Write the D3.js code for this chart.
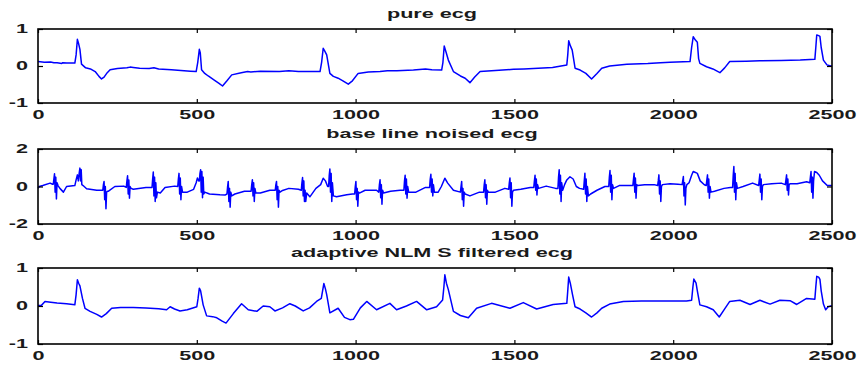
<!DOCTYPE html>
<html>
<head>
<meta charset="utf-8">
<script src="https://cdn.jsdelivr.net/npm/d3@7"></script>
<style>
  body { margin: 0; background: #fff; }
  svg text { font-family: "Liberation Sans", Arial, sans-serif; fill: #1a1a1a; }
</style>
</head>
<body>
<svg id="chart" width="857" height="365"></svg>
<script>
// sample index, amplitude
const pureEcg = [[0,0.12],[20,0.1],[40,0.11],[50,0.09],[60,0.09],[75,0.07],[78,0.09],[90,0.08],[116,0.08],[120,0.3],[124,0.72],[128,0.6],[132,0.45],[137,0.05],[150,-0.05],[165,-0.08],[180,-0.15],[192,-0.28],[200,-0.35],[208,-0.3],[218,-0.18],[227,-0.1],[250,-0.07],[280,-0.05],[290,-0.03],[300,-0.04],[320,-0.06],[350,-0.07],[365,-0.05],[380,-0.08],[420,-0.1],[450,-0.12],[480,-0.14],[498,-0.15],[503,0.1],[508,0.45],[511,0.35],[515,-0.1],[525,-0.2],[536,-0.27],[555,-0.38],[570,-0.47],[581,-0.54],[595,-0.4],[610,-0.24],[640,-0.18],[660,-0.15],[670,-0.16],[700,-0.14],[760,-0.15],[790,-0.13],[820,-0.15],[888,-0.15],[893,0.1],[898,0.48],[903,0.4],[909,0.3],[919,-0.2],[930,-0.28],[945,-0.33],[960,-0.4],[977,-0.49],[990,-0.4],[1008,-0.2],[1040,-0.16],[1077,-0.15],[1100,-0.13],[1130,-0.13],[1182,-0.11],[1220,-0.08],[1240,-0.1],[1271,-0.11],[1275,0.1],[1279,0.54],[1284,0.4],[1292,0.16],[1308,-0.15],[1330,-0.27],[1345,-0.33],[1360,-0.45],[1375,-0.3],[1392,-0.15],[1440,-0.12],[1497,-0.09],[1530,-0.08],[1560,-0.07],[1620,-0.04],[1665,0.03],[1668,0.3],[1671,0.68],[1676,0.55],[1682,0.43],[1691,-0.06],[1707,-0.11],[1725,-0.2],[1743,-0.35],[1760,-0.2],[1775,-0.06],[1800,0.0],[1854,0.05],[1920,0.07],[1960,0.09],[1990,0.1],[2053,0.12],[2058,0.5],[2063,0.79],[2070,0.7],[2076,0.64],[2080,0.2],[2084,0.07],[2105,-0.02],[2125,-0.08],[2147,-0.18],[2162,-0.05],[2178,0.12],[2230,0.13],[2273,0.14],[2340,0.15],[2400,0.16],[2446,0.18],[2449,0.5],[2452,0.84],[2458,0.82],[2462,0.8],[2466,0.5],[2473,0.16],[2484,0.03],[2496,0.0],[2500,0.0]];

const noisedEcg = [[0,-0.09],[4,0.0],[15,0.05],[38,0.18],[46,0.12],
  [48,0.12],[50,0.4],[52,0.68],[54,-0.3],[56,0.5],[58,-0.66],[60,0.2],[63,0.05],
  [69,-0.1],[80,-0.3],[90,0.0],[116,0.05],
  [120,0.35],[124,0.62],[127,0.3],[130,0.75],[132,0.98],[134,0.3],[136,0.9],[138,0.1],[142,0.05],
  [153,-0.12],[185,-0.2],
  [204,-0.2],[206,0.1],[208,0.27],[210,-0.7],[212,0.0],[214,-1.19],[216,-0.3],[219,-0.25],
  [222,-0.25],[242,0.0],[270,0.02],
  [278,-0.05],[280,0.3],[282,0.57],[284,-0.4],[286,0.35],[288,-0.62],[290,0.0],[293,-0.1],
  [300,-0.15],[340,-0.05],
  [359,-0.05],[361,0.4],[363,0.77],[365,-0.5],[367,0.5],[369,-0.8],[371,0.2],[373,-0.6],[376,-0.3],
  [385,-0.35],[400,-0.05],[430,0.02],
  [440,0.0],[442,0.4],[444,0.7],[446,-0.4],[448,0.45],[450,-0.71],[452,0.0],[455,-0.3],
  [470,-0.3],[490,-0.15],[498,0.2],[502,0.45],[506,0.3],
  [508,0.3],[510,0.7],[512,0.89],[514,-0.3],[516,0.8],[518,-0.6],[520,0.5],[522,-0.4],[525,-0.3],
  [540,-0.4],[573,-0.44],[590,-0.45],
  [595,-0.4],[597,0.0],[599,0.27],[601,-0.8],[603,-0.1],[605,-1.1],[607,-0.3],[610,-0.5],
  [620,-0.4],[650,-0.25],
  [671,-0.25],[673,0.1],[675,0.36],[677,-0.5],[679,0.2],[681,-0.8],[683,-0.1],[686,-0.35],
  [700,-0.35],[730,-0.2],
  [747,-0.2],[749,0.1],[751,0.27],[753,-0.7],[755,0.0],[757,-1.1],[759,-0.2],[762,-0.3],
  [770,-0.21],[790,-0.1],[820,-0.15],
  [829,-0.2],[831,0.2],[833,0.48],[835,-0.5],[837,0.3],[839,-0.8],[841,-0.2],[843,-0.8],[846,-0.35],
  [856,-0.55],[875,-0.1],[890,0.1],[898,0.44],[905,0.3],[912,0.0],
  [915,0.0],[917,0.6],[919,0.93],[921,-0.3],[923,0.7],[925,-0.8],[927,0.2],[930,-0.5],
  [940,-0.55],[972,-0.44],[990,-0.4],
  [997,-0.4],[999,0.0],[1001,0.27],[1003,-0.7],[1005,-0.1],[1007,-1.05],[1009,-0.3],[1012,-0.35],
  [1030,-0.2],[1066,-0.2],
  [1073,-0.3],[1075,0.1],[1077,0.36],[1079,-0.6],[1081,0.1],[1083,-0.95],[1085,-0.2],[1088,-0.35],
  [1110,-0.25],[1140,-0.2],
  [1152,-0.2],[1154,0.3],[1156,0.6],[1158,-0.4],[1160,0.4],[1162,-0.62],[1164,0.0],[1167,-0.3],
  [1190,-0.3],[1220,-0.05],
  [1233,-0.05],[1235,0.4],[1237,0.65],[1239,-0.3],[1241,0.4],[1243,-0.5],[1245,0.1],[1248,-0.3],
  [1260,-0.3],[1270,0.0],[1281,0.44],[1290,0.18],[1308,-0.2],
  [1330,-0.3],[1332,0.0],[1334,0.27],[1336,-0.7],[1338,-0.1],[1340,-1.05],[1342,-0.3],[1345,-0.4],
  [1360,-0.5],[1390,-0.3],
  [1403,-0.3],[1405,0.1],[1407,0.36],[1409,-0.6],[1411,0.1],[1413,-0.95],[1415,-0.2],[1418,-0.3],
  [1440,-0.3],[1470,-0.1],
  [1482,-0.15],[1484,0.2],[1486,0.45],[1488,-0.6],[1490,0.2],[1492,-1.05],[1494,-0.3],[1497,-0.2],
  [1520,-0.15],[1550,-0.05],
  [1561,-0.05],[1563,0.3],[1565,0.6],[1567,-0.2],[1569,0.4],[1571,-0.45],[1573,0.1],[1576,-0.1],
  [1600,0.02],[1630,-0.1],
  [1637,-0.1],[1639,0.5],[1641,0.89],[1643,-0.4],[1645,0.6],[1647,-0.8],[1649,0.2],[1652,-0.2],
  [1658,0.1],[1665,0.35],[1675,0.52],[1685,0.4],[1695,0.0],[1705,-0.1],
  [1718,-0.15],[1720,0.3],[1722,0.71],[1724,-0.4],[1726,0.4],[1728,-0.8],[1730,0.0],[1733,-0.5],
  [1740,-0.4],[1760,-0.2],[1785,0.0],
  [1797,0.0],[1799,0.5],[1801,0.85],[1803,-0.3],[1805,0.6],[1807,-0.71],[1809,0.1],[1812,-0.1],
  [1830,0.05],[1860,0.05],
  [1873,0.05],[1875,0.4],[1877,0.71],[1879,-0.3],[1881,0.45],[1883,-0.62],[1885,0.1],[1888,0.05],
  [1910,0.09],[1940,0.1],
  [1951,0.05],[1953,0.3],[1955,0.62],[1957,-0.4],[1959,0.3],[1961,-0.8],[1963,0.0],[1966,0.1],
  [1990,0.15],[2015,0.12],
  [2028,0.1],[2030,0.3],[2032,0.53],[2034,-0.5],[2036,0.2],[2038,-0.98],[2040,-0.1],[2043,0.1],
  [2050,0.2],[2058,0.6],[2063,0.8],[2070,0.75],[2076,0.7],[2085,0.3],[2098,0.09],
  [2104,0.05],[2106,0.35],[2108,0.62],[2110,-0.3],[2112,0.4],[2114,-0.62],[2116,0.0],[2119,-0.3],
  [2130,-0.25],[2160,-0.1],[2180,-0.05],
  [2187,-0.05],[2189,0.6],[2191,1.07],[2193,-0.3],[2195,0.7],[2197,-0.71],[2199,0.2],[2202,-0.1],
  [2220,0.0],[2250,0.18],
  [2269,0.05],[2271,0.35],[2273,0.66],[2275,-0.3],[2277,0.4],[2279,-0.71],[2281,0.0],[2284,0.1],
  [2310,0.15],[2340,0.18],
  [2353,0.1],[2355,0.35],[2357,0.62],[2359,-0.2],[2361,0.4],[2363,-0.45],[2365,0.1],[2368,0.15],
  [2390,0.15],[2420,0.25],
  [2430,0.2],[2432,0.5],[2434,0.8],[2436,-0.3],[2438,0.5],[2440,-0.62],[2442,0.3],[2445,0.8],
  [2452,0.75],[2460,0.6],[2470,0.3],[2485,0.05],[2500,0.05]];

const filteredEcg = [[0,0.01],[10,0.01],[22,0.12],[40,0.1],[60,0.08],[90,0.06],[116,0.03],[120,0.3],[124,0.69],[128,0.6],[132,0.53],[140,0.2],[148,-0.06],[164,-0.14],[185,-0.22],[200,-0.29],[215,-0.2],[232,-0.06],[260,-0.04],[300,-0.04],[340,-0.05],[380,-0.07],[405,-0.1],[416,-0.02],[430,-0.08],[447,-0.13],[470,-0.1],[500,-0.02],[504,0.2],[508,0.47],[512,0.4],[520,0.03],[531,-0.26],[550,-0.28],[563,-0.31],[580,-0.4],[592,-0.45],[615,-0.2],[641,0.06],[662,-0.1],[689,-0.14],[709,0.0],[730,-0.02],[746,-0.13],[770,-0.05],[793,0.06],[810,0.0],[835,-0.13],[855,-0.05],[877,0.12],[892,0.2],[900,0.59],[905,0.45],[909,0.3],[919,-0.18],[945,-0.06],[965,-0.3],[982,-0.36],[993,-0.35],[1015,-0.05],[1035,0.12],[1066,-0.1],[1108,0.07],[1129,-0.1],[1160,0.0],[1192,0.12],[1224,-0.1],[1255,-0.02],[1274,0.16],[1278,0.5],[1281,0.82],[1286,0.6],[1292,0.43],[1308,-0.14],[1330,-0.25],[1355,-0.31],[1381,-0.06],[1428,0.07],[1486,-0.06],[1528,0.09],[1570,-0.08],[1622,0.04],[1665,0.07],[1668,0.4],[1671,0.76],[1676,0.6],[1683,0.3],[1691,-0.02],[1707,-0.08],[1725,-0.18],[1743,-0.29],[1760,-0.18],[1775,-0.06],[1800,0.05],[1843,0.12],[1900,0.13],[1960,0.13],[2042,0.13],[2058,0.15],[2062,0.5],[2065,0.71],[2072,0.6],[2076,0.4],[2084,0.03],[2105,-0.02],[2126,-0.1],[2145,-0.29],[2160,-0.1],[2178,0.12],[2210,0.15],[2242,0.04],[2273,0.15],[2305,0.05],[2336,0.15],[2368,0.14],[2389,0.04],[2420,0.2],[2446,0.18],[2449,0.5],[2452,0.78],[2458,0.76],[2462,0.7],[2466,0.4],[2473,0.05],[2480,-0.1],[2488,-0.02],[2496,0.0],[2500,0.0]];

const titles = ['pure ecg', 'base line noised ecg', 'adaptive NLM S filtered ecg'];
const yDomains = [[-1, 1], [-2, 2], [-1, 1]];
const yTicks = [[-1, 0, 1], [-2, 0, 2], [-1, 0, 1]];
const xTicks = [0, 500, 1000, 1500, 2000, 2500];
const series = [pureEcg, noisedEcg, filteredEcg];

const svg = d3.select('#chart');
const left = 38, right = 832;
const panels = [
  { top: 29, bottom: 103, titleY: 18 },
  { top: 149, bottom: 224, titleY: 138 },
  { top: 268, bottom: 344, titleY: 257 },
];
const stretch = 1.8;

const x = d3.scaleLinear().domain([0, 2500]).range([left, right]);

panels.forEach((p, i) => {
  const y = d3.scaleLinear().domain(yDomains[i]).range([p.bottom, p.top]);
  const g = svg.append('g');

  const line = d3.line().x(d => x(d[0])).y(d => y(d[1]));
  g.append('path')
    .datum(series[i])
    .attr('d', line)
    .attr('fill', 'none')
    .attr('stroke', '#0000ff')
    .attr('stroke-width', 1.5)
    .attr('stroke-linejoin', 'round');

  const fmt = d => String(d);

  g.append('g')
    .attr('transform', `translate(0,${p.bottom})`)
    .call(d3.axisBottom(x).tickValues(xTicks).tickFormat(fmt).tickSizeInner(-4).tickSizeOuter(0).tickPadding(7));
  g.append('g')
    .attr('transform', `translate(0,${p.top})`)
    .call(d3.axisTop(x).tickValues(xTicks).tickFormat('').tickSizeInner(-4).tickSizeOuter(0));
  g.append('g')
    .attr('transform', `translate(${left},0)`)
    .call(d3.axisLeft(y).tickValues(yTicks[i]).tickFormat(fmt).tickSizeInner(-5).tickSizeOuter(0).tickPadding(10));
  g.append('g')
    .attr('transform', `translate(${right},0)`)
    .call(d3.axisRight(y).tickValues(yTicks[i]).tickFormat('').tickSizeInner(-5).tickSizeOuter(0));

  g.selectAll('.domain').remove();
  g.selectAll('.tick line').attr('stroke', '#000').attr('stroke-width', 1.2);
  g.selectAll('.tick text')
    .attr('font-size', 12)
    .attr('font-weight', 'bold')
    .attr('fill', '#222');

  g.append('rect')
    .attr('x', left).attr('y', p.top)
    .attr('width', right - left).attr('height', p.bottom - p.top)
    .attr('fill', 'none').attr('stroke', '#000').attr('stroke-width', 1.6);

  g.append('text')
    .attr('x', 432).attr('y', p.titleY)
    .attr('text-anchor', 'middle')
    .attr('font-size', 12)
    .attr('font-weight', 'bold')
    .attr('fill', '#222')
    .text(titles[i]);
});

// widen the glyphs like the original export
svg.selectAll('text').each(function() {
  const len = this.getComputedTextLength();
  if (len > 0) {
    d3.select(this).attr('textLength', len * stretch).attr('lengthAdjust', 'spacingAndGlyphs');
  }
});
</script>
</body>
</html>
